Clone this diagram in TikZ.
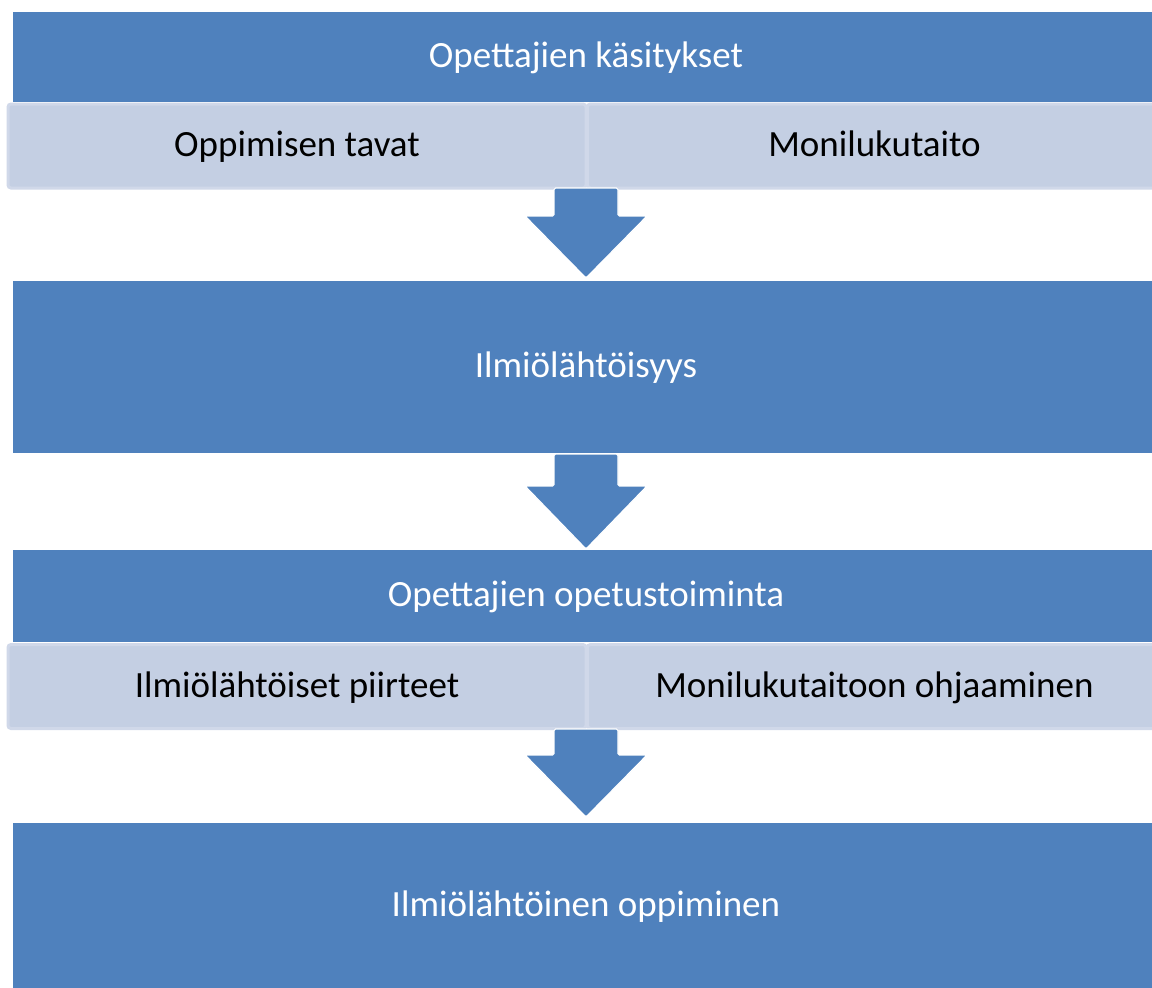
\documentclass[tikz,border=0pt]{standalone}
\usepackage{fontspec}
\setmainfont{Carlito}
\definecolor{mainblue}{HTML}{4F81BD}
\definecolor{lightfill}{HTML}{C4CFE3}
\definecolor{lightedge}{HTML}{D0D8E9}
\begin{document}
\begin{tikzpicture}[x=0.5pt,y=-0.5pt,
  txt/.style={font=\fontsize{18.5}{22}\selectfont,text height=12pt,text depth=1.1pt,inner sep=0pt},
  bigbox/.style={txt,fill=mainblue,draw=none,text=white,minimum width=573pt},
  subbox/.style={txt,fill=lightfill,draw=lightedge,line width=1.5pt,rounded corners=1.5pt,
     text=black,minimum height=42pt},
  blockarrow/.style={fill=mainblue,draw=white,line width=0.6pt,rounded corners=0.8pt}]
\clip (0,0) rectangle (1152,987);
\fill[white] (0,0) rectangle (1152,987);
% boxes
\node[bigbox,minimum height=45pt] (b1) at (586,57) {Opettajien käsitykset};
\node[subbox,minimum width=289pt] (s1a) at (297,146) {Oppimisen tavat};
\node[subbox,minimum width=287pt] (s1b) at (874.5,146) {Monilukutaito};
\node[bigbox,minimum height=86pt] (b2) at (586,367) {Ilmiölähtöisyys};
\node[bigbox,minimum height=46pt] (b3) at (586,596) {Opettajien opetustoiminta};
\node[subbox,minimum width=289pt] (s2a) at (297,686.5) {Ilmiölähtöiset piirteet};
\node[subbox,minimum width=287pt] (s2b) at (874.5,686.5) {Monilukutaitoon ohjaaminen};
\node[bigbox,minimum height=82.5pt] (b4) at (586,905.5) {Ilmiölähtöinen oppiminen};
% block arrows
\foreach \top/\shoulder/\tip in {188/216/278, 454/486/549, 729/755/817}{
  \draw[blockarrow] (554,\top) -- (554,\shoulder) -- (525,\shoulder) -- (586,\tip)
     -- (647,\shoulder) -- (618,\shoulder) -- (618,\top) -- cycle;
}
\end{tikzpicture}
\end{document}
